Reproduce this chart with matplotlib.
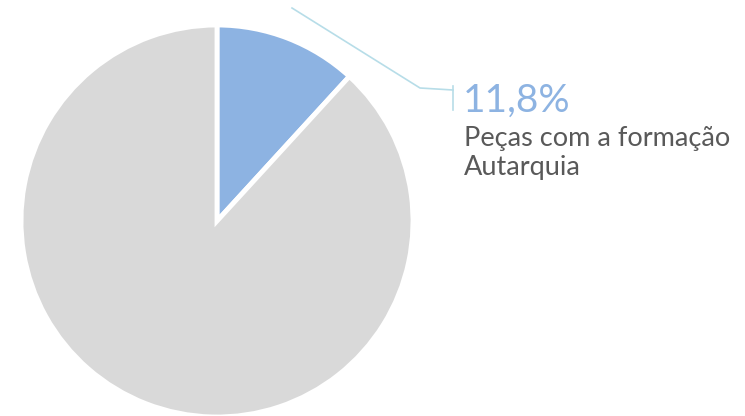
import matplotlib.pyplot as plt

labels = ["Peças com a formação Autarquia", "Outras"]
shares = [11.8, 88.2]
colors = ["#8db3e2", "#d9d9d9"]

W, H = 745, 416
fig = plt.figure(figsize=(W / 100, H / 100), dpi=100)
ax = fig.add_axes([0, 0, 1, 1])

ax.pie(shares, colors=colors, startangle=90, counterclock=False,
       center=(217, H - 221), radius=196,
       wedgeprops=dict(edgecolor="white", linewidth=3.5))

# leader line
ax.plot([292, 420, 453], [H - 8, H - 88, H - 90], color="#b7dde8", lw=1.2)
ax.plot([453, 453], [H - 86, H - 110], color="#b7dde8", lw=1.2)

ax.text(463, H - 112, "11,8%", fontsize=28, color="#8db3e2",
        family="Lato", va="baseline", ha="left")
ax.text(464, H - 146, "Peças com a formação", fontsize=19.5, color="#595959",
        family="Lato", va="baseline", ha="left")
ax.text(464, H - 175, "Autarquia", fontsize=19.5, color="#595959",
        family="Lato", va="baseline", ha="left")

ax.set_xlim(0, W)
ax.set_ylim(0, H)
ax.set_aspect("auto")
ax.axis("off")

fig.savefig("out.png", dpi=100)
